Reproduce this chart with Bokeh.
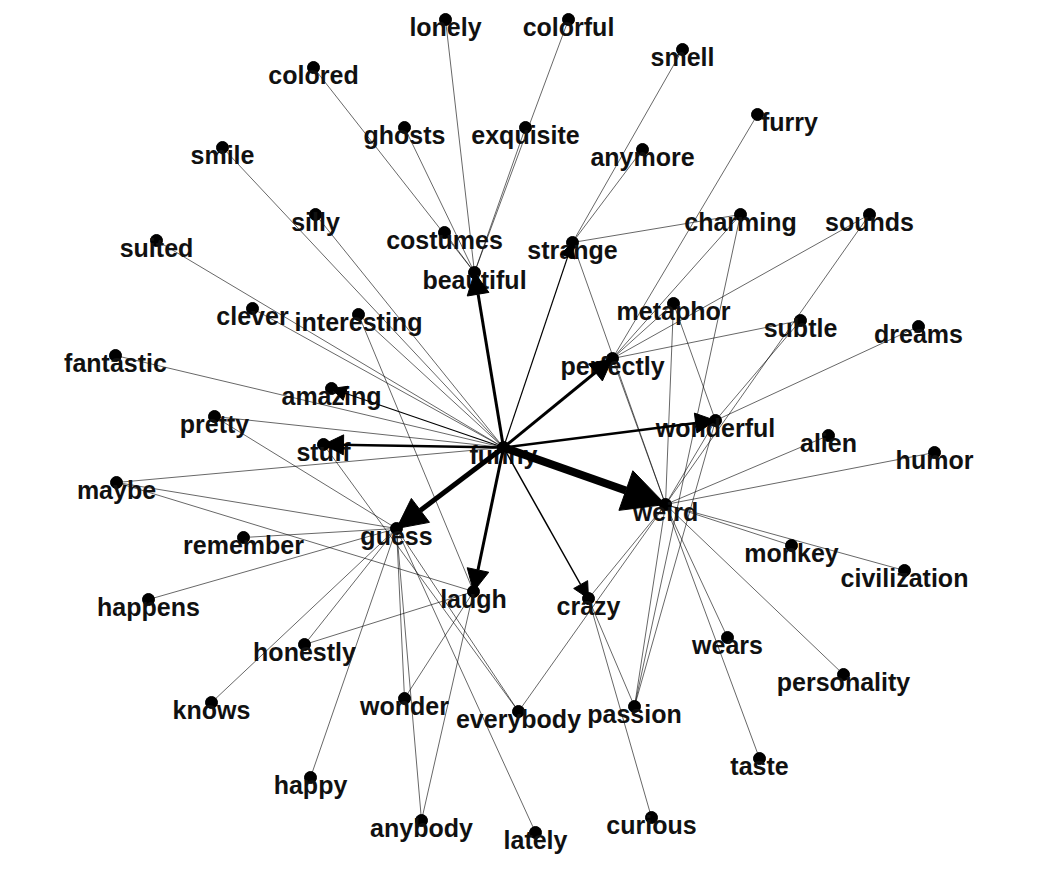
from bokeh.plotting import figure
from bokeh.models import Range1d, Arrow, NormalHead, ColumnDataSource
from bokeh.core.properties import value
from bokeh.embed import file_html
from bokeh.resources import INLINE

# node names and positions (picture pixels, y downwards)
names = ["lonely", "colorful", "smell", "colored", "ghosts", "exquisite", "furry", "smile",
         "anymore", "silly", "costumes", "strange", "charming", "sounds", "suited", "beautiful",
         "clever", "interesting", "metaphor", "subtle", "dreams", "fantastic", "perfectly",
         "amazing", "pretty", "stuff", "wonderful", "alien", "funny", "humor", "maybe", "weird",
         "guess", "remember", "monkey", "civilization", "happens", "crazy", "laugh", "honestly",
         "wears", "personality", "knows", "wonder", "everybody", "passion", "taste", "happy",
         "anybody", "lately", "curious"]
node_x = [453, 576, 690, 321, 412, 533, 765, 230, 650, 323, 452, 580, 748, 877, 164, 482,
          260, 366, 681, 808, 926, 123, 620, 339, 222, 331, 723, 836, 511, 942, 124, 673,
          404, 251, 799, 912, 156, 596, 481, 312, 735, 851, 219, 412, 526, 642, 767, 318,
          429, 543, 659]
node_y = [27, 27, 57, 75, 135, 135, 122, 155, 157, 222, 240, 250, 222, 222, 248, 280,
          316, 322, 311, 328, 334, 363, 366, 396, 424, 452, 428, 443, 455, 460, 490, 512,
          536, 545, 553, 578, 607, 606, 599, 652, 645, 682, 710, 706, 719, 714, 766, 785,
          828, 840, 825]
label_x = {"furry": 797}

# weighted arcs out of "funny": target, width
arrow_to = ["weird", "guess", "beautiful", "perfectly", "laugh", "wonderful", "stuff",
            "crazy", "strange", "amazing"]
arrow_w = [8, 5, 3, 3, 3, 2.5, 2.5, 1.5, 1.2, 1.2]

edges = [("lonely", "beautiful"), ("colorful", "beautiful"), ("colored", "beautiful"),
         ("ghosts", "beautiful"), ("exquisite", "beautiful"), ("costumes", "beautiful"),
         ("smell", "strange"), ("anymore", "strange"), ("strange", "charming"),
         ("strange", "weird"), ("furry", "perfectly"), ("charming", "perfectly"),
         ("charming", "passion"), ("sounds", "perfectly"), ("sounds", "weird"),
         ("metaphor", "perfectly"), ("metaphor", "weird"), ("metaphor", "wonderful"),
         ("subtle", "perfectly"), ("subtle", "wonderful"), ("dreams", "wonderful"),
         ("smile", "funny"), ("silly", "funny"), ("suited", "funny"), ("clever", "funny"),
         ("interesting", "funny"), ("interesting", "laugh"), ("fantastic", "funny"),
         ("pretty", "funny"), ("pretty", "guess"), ("stuff", "everybody"),
         ("maybe", "guess"), ("maybe", "laugh"), ("maybe", "funny"), ("remember", "guess"),
         ("happens", "guess"), ("honestly", "guess"), ("honestly", "laugh"),
         ("knows", "guess"), ("happy", "guess"), ("wonder", "guess"), ("wonder", "laugh"),
         ("anybody", "guess"), ("anybody", "laugh"), ("everybody", "guess"),
         ("everybody", "weird"), ("lately", "guess"), ("crazy", "weird"),
         ("crazy", "curious"), ("crazy", "passion"), ("passion", "weird"),
         ("passion", "wonderful"), ("wears", "weird"), ("taste", "weird"),
         ("personality", "weird"), ("monkey", "weird"), ("civilization", "weird"),
         ("alien", "weird"), ("humor", "weird"), ("wonderful", "weird"),
         ("perfectly", "weird")]

pos = {n: (x, y) for n, x, y in zip(names, node_x, node_y)}

p = figure(width=1028, height=869, x_range=Range1d(8, 1036), y_range=Range1d(877, 8),
           output_backend="svg", toolbar_location=None, min_border=0)
p.axis.visible = False
p.grid.visible = False
p.outline_line_color = None

p.multi_line(xs=[[pos[a][0], pos[b][0]] for a, b in edges],
             ys=[[pos[a][1], pos[b][1]] for a, b in edges],
             line_color="black", line_width=0.6)

fx, fy = pos["funny"]
for t, w in zip(arrow_to, arrow_w):
    tx, ty = pos[t]
    head = NormalHead(size=10 + 4 * w, fill_color="black", line_color="black")
    p.add_layout(Arrow(end=head, x_start=fx, y_start=fy, x_end=tx, y_end=ty,
                       line_width=w, line_color="black"))

p.scatter(node_x, node_y, size=12, color="black")

src = ColumnDataSource(dict(x=[label_x.get(n, x) for n, x in zip(names, node_x)],
                            y=[y + 7 for y in node_y], t=names))
p.text(x="x", y="y", text="t", source=src, text_align="center", text_baseline="middle",
       text_font=value("Liberation Sans"), text_font_style="bold", text_font_size="25px",
       text_color="#111111")

open("out.html", "w").write(file_html(p, INLINE))
